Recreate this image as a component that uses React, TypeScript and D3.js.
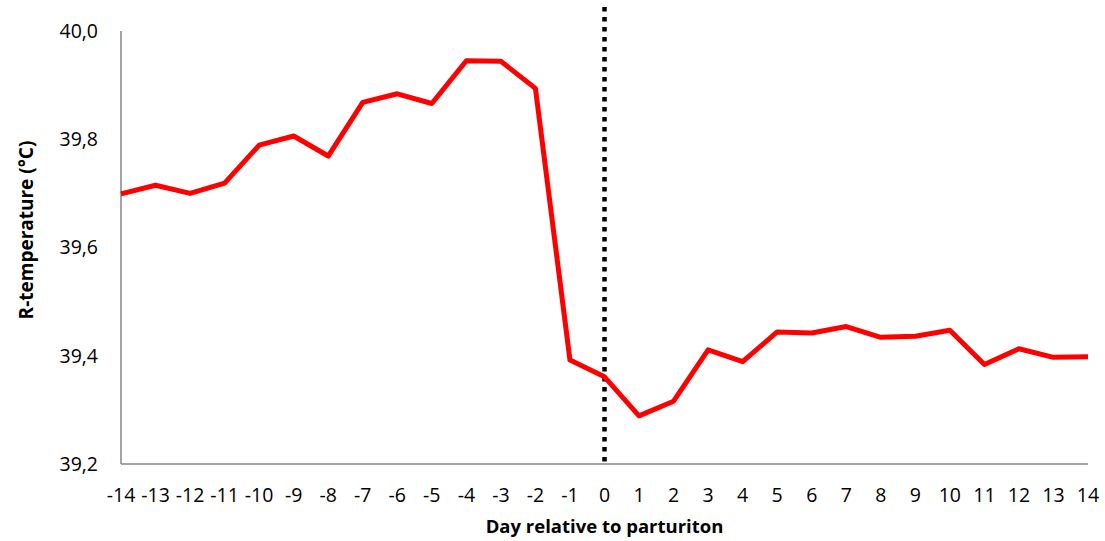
// React
import { useEffect, useRef } from 'react';

// Installed Packages
import * as d3 from 'd3';

// Data
const days: number[] = [-14, -13, -12, -11, -10, -9, -8, -7, -6, -5, -4, -3, -2, -1, 0, 1, 2, 3, 4, 5, 6, 7, 8, 9, 10, 11, 12, 13, 14];
const rTemperature: number[] = [
    39.699, 39.715, 39.700, 39.719, 39.789, 39.806, 39.769, 39.868, 39.884, 39.866,
    39.945, 39.944, 39.894, 39.392, 39.361, 39.289, 39.316, 39.411, 39.389, 39.444,
    39.442, 39.454, 39.434, 39.436, 39.447, 39.384, 39.413, 39.397, 39.398
];
const yTicks: number[] = [39.2, 39.4, 39.6, 39.8, 40.0];
const partusDay = 0;

const WIDTH = 1105;
const HEIGHT = 541;
const FONT = "'Open Sans', 'Noto Sans', sans-serif";

export default function App() {
    const ref = useRef<SVGSVGElement>(null);

    useEffect(() => {
        const svg = d3.select(ref.current);
        svg.selectAll('*').remove();

        const x = d3.scaleLinear().domain([days[0], days[days.length - 1]]).range([121, 1088]);
        const y = d3.scaleLinear().domain([39.2, 40.0]).range([464, 31]);

        // Y axis tick labels
        svg.append('g')
            .selectAll('text')
            .data(yTicks)
            .join('text')
            .attr('x', 98)
            .attr('y', d => y(d))
            .attr('dy', '0.35em')
            .attr('text-anchor', 'end')
            .style('font-family', FONT)
            .style('font-size', '19.5px')
            .style('fill', '#000')
            .text(d => d3.format('.1f')(d).replace('.', ','));

        // X axis tick labels
        svg.append('g')
            .selectAll('text')
            .data(days)
            .join('text')
            .attr('x', d => x(d))
            .attr('y', 495)
            .attr('dy', '0.35em')
            .attr('text-anchor', 'middle')
            .style('font-family', FONT)
            .style('font-size', '19.5px')
            .style('fill', '#000')
            .text(d => String(d));

        // Axis lines
        svg.append('line')
            .attr('x1', x(days[0])).attr('x2', x(days[0]))
            .attr('y1', y(40.0)).attr('y2', y(39.2))
            .attr('stroke', '#868686').attr('stroke-width', 1.5);
        svg.append('line')
            .attr('x1', x(days[0])).attr('x2', x(days[days.length - 1]))
            .attr('y1', y(39.2)).attr('y2', y(39.2))
            .attr('stroke', '#868686').attr('stroke-width', 1.5);

        // Parturition marker
        svg.append('line')
            .attr('x1', x(partusDay)).attr('x2', x(partusDay))
            .attr('y1', 7).attr('y2', y(39.2))
            .attr('stroke', '#000')
            .attr('stroke-width', 4.5)
            .attr('stroke-dasharray', '4.5 5.5');

        // Temperature line
        const line = d3.line<number>()
            .x((_, i) => x(days[i]))
            .y(d => y(d));

        svg.append('path')
            .datum(rTemperature)
            .attr('d', line)
            .attr('fill', 'none')
            .attr('stroke', '#ff0000')
            .attr('stroke-width', 5)
            .attr('stroke-linejoin', 'round');

        // Axis titles
        svg.append('text')
            .attr('x', x(partusDay))
            .attr('y', 527)
            .attr('dy', '0.35em')
            .attr('text-anchor', 'middle')
            .style('font-family', FONT)
            .style('font-size', '18.5px')
            .style('font-weight', 'bold')
            .text('Day relative to parturiton');

        svg.append('text')
            .attr('transform', 'translate(26, 230) rotate(-90)')
            .attr('dy', '0.35em')
            .attr('text-anchor', 'middle')
            .style('font-family', FONT)
            .style('font-size', '19px')
            .style('font-weight', 'bold')
            .text('R-temperature (°C)');
    }, []);

    return (
        <svg
            ref={ref}
            width={WIDTH}
            height={HEIGHT}
            style={{ position: 'absolute', left: 0, top: 0, background: '#fff' }}
        />
    );
}
